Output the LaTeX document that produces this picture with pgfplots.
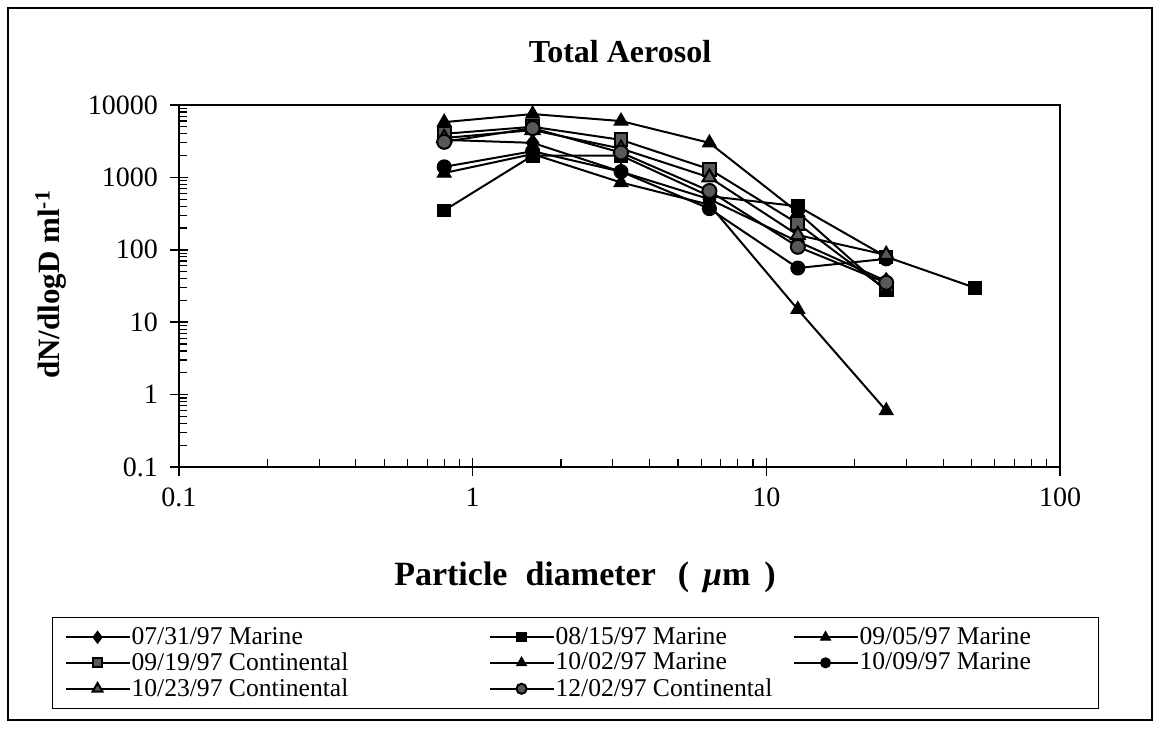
\documentclass[border=0pt]{standalone}
\usepackage{pgfplots}
\pgfplotsset{compat=1.18}
\usepackage{fontspec}
\setmainfont{Liberation Serif}
\newcommand{\lA}[1]{\makebox[178pt][l]{#1}}
\newcommand{\lB}[1]{\makebox[118pt][l]{#1}}
\newcommand{\lC}[1]{\makebox[113pt][l]{#1}}
\begin{document}
\begin{tikzpicture}[x=1pt,y=1pt]
\path[use as bounding box] (0,0) rectangle (580.5,364);
\draw[line width=0.6pt] (4,4) rectangle (576,360);
\begin{axis}[
  at={(89.5pt,130.5pt)}, anchor=south west,
  scale only axis, width=440.5pt, height=181pt,
  xmode=log, ymode=log,
  xmin=0.1, xmax=100, ymin=0.1, ymax=10000,
  xtick={0.1,1,10,100}, xticklabels={0.1,1,10,100},
  ytick={0.1,1,10,100,1000,10000}, yticklabels={0.1,1,10,100,1000,10000},
  xtick pos=left, ytick pos=left,
  tick align=inside,
  major tick length=9pt, minor tick length=4pt,
  every major x tick/.append style={yshift=-4.5pt},
  every major y tick/.append style={xshift=-4.5pt},
  tick style={black, line width=0.8pt},
  minor tick style={line width=0.6pt},
  axis line style={line width=1pt},
  tick label style={font=\fontsize{14}{16}\selectfont},
  yticklabel style={xshift=-7pt},
  xticklabel style={yshift=-7pt},
  every axis plot/.append style={black, line width=1pt, mark options={solid, line width=0.5pt}},
  legend columns=3,
  legend cell align=left,
  legend style={at={(-0.1442,-0.4144)}, anchor=north west,
    draw=black, line width=0.6pt, inner xsep=6pt, inner ysep=3.5pt,
    font=\fontsize{12.8}{14}\selectfont,
    nodes={inner xsep=0.5pt, inner ysep=1.3pt},
    column sep=0pt, row sep=0pt},
  legend image code/.code={
    \draw[mark repeat=2,mark phase=2,#1, every mark/.append style={scale=0.72}] plot coordinates {(0pt,0pt) (16pt,0pt) (32pt,0pt)};
  },
]
% 07/31/97 Marine
\addplot[mark=diamond*, mark size=4.2pt] coordinates {
(0.8,3300) (1.6,3000) (3.2,1200) (6.4,500) (12.8,130) (25.6,37)};
\addlegendentry{\lA{07/31/97 Marine}}
% 08/15/97 Marine
\addplot[mark=square*, mark size=3.2pt] coordinates {
(0.8,350) (1.6,2000) (3.2,2000) (6.4,550) (12.8,400) (25.6,80) (51.2,30)};
\addlegendentry{\lB{08/15/97 Marine}}
% 09/05/97 Marine
\addplot[mark=triangle*, mark size=4pt] coordinates {
(0.8,1150) (1.6,2100) (3.2,850) (6.4,420) (12.8,15) (25.6,0.6)};
\addlegendentry{\lC{09/05/97 Marine}}
% 09/19/97 Continental
\addplot[mark=square*, mark size=3.2pt, mark options={fill=black!65, draw=black}] coordinates {
(0.8,4000) (1.6,5000) (3.2,3300) (6.4,1300) (12.8,230) (25.6,28)};
\addlegendentry{\lA{09/19/97 Continental}}
% 10/02/97 Marine
\addplot[mark=triangle*, mark size=4pt] coordinates {
(0.8,5800) (1.6,7500) (3.2,6000) (6.4,3000) (12.8,330) (25.6,27)};
\addlegendentry{\lB{10/02/97 Marine}}
% 10/09/97 Marine
\addplot[mark=*, mark size=3.5pt] coordinates {
(0.8,1400) (1.6,2300) (3.2,1200) (6.4,370) (12.8,56) (25.6,75)};
\addlegendentry{\lC{10/09/97 Marine}}
% 10/23/97 Continental
\addplot[mark=triangle*, mark size=4pt, mark options={fill=black!65, draw=black}] coordinates {
(0.8,3500) (1.6,4500) (3.2,2500) (6.4,1000) (12.8,160) (25.6,85)};
\addlegendentry{\lA{10/23/97 Continental}}
% 12/02/97 Continental
\addplot[mark=*, mark size=3.5pt, mark options={fill=black!65, draw=black}] coordinates {
(0.8,3100) (1.6,4800) (3.2,2200) (6.4,650) (12.8,110) (25.6,35)};
\addlegendentry{\lB{12/02/97 Continental}}
\end{axis}
\node[font=\bfseries\fontsize{16}{19}\selectfont] at (310,338) {Total Aerosol};
\node[font=\bfseries\fontsize{15.5}{19}\selectfont, rotate=90] at (25.5,221.75) {dN/dlogD ml\textsuperscript{-1}};
\node[font=\bfseries\fontsize{17}{20}\selectfont] at (292.5,75.5) {Particle\hspace{9pt}diameter\hspace{11pt}(\hspace{7pt}\textit{μ}m\hspace{7pt})};
\end{tikzpicture}
\end{document}
